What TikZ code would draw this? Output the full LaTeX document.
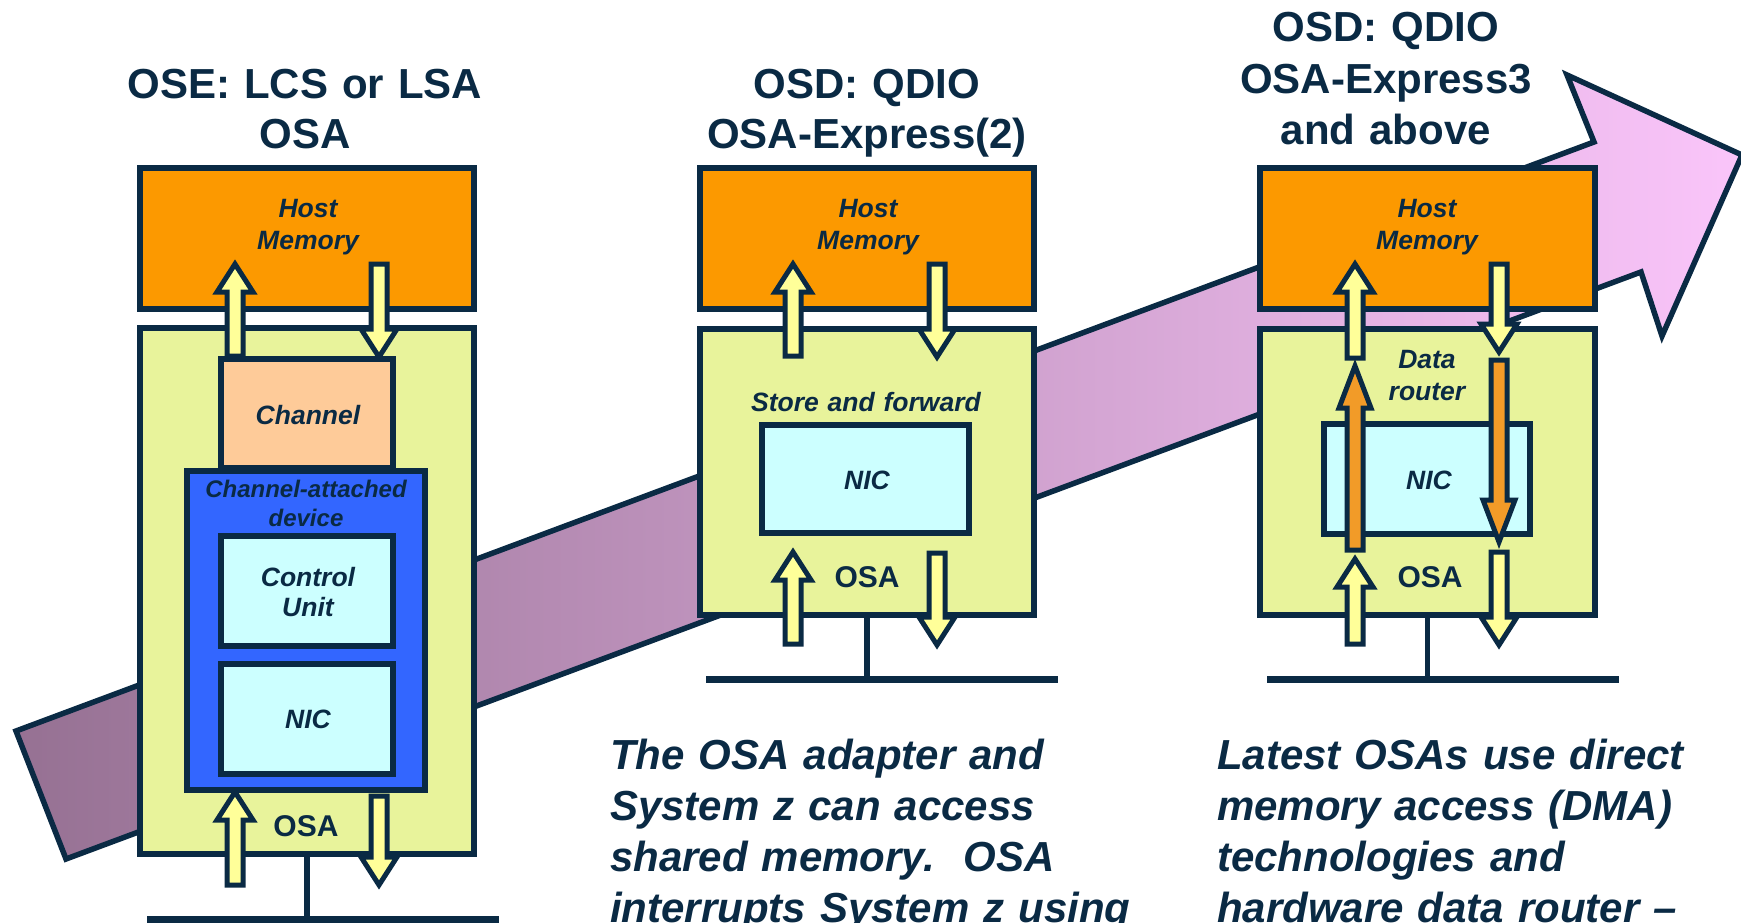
\documentclass[tikz,border=0pt]{standalone}
\usepackage{fontspec}
\setmainfont{Liberation Sans}
\usepackage{xcolor}

\definecolor{navy}{RGB}{10,42,68}
\definecolor{memorange}{RGB}{252,153,0}
\definecolor{osagreen}{RGB}{232,243,155}
\definecolor{chanpeach}{RGB}{254,203,153}
\definecolor{devblue}{RGB}{51,102,255}
\definecolor{niccyan}{RGB}{204,255,255}
\definecolor{flowyellow}{RGB}{255,255,153}
\definecolor{routeorange}{RGB}{242,155,40}
\definecolor{bandleft}{RGB}{150,113,147}
\definecolor{bandright}{RGB}{250,197,250}

\newcommand{\flowarrow}[6]{%
	\draw[flow, fill=#1] (#2-8,#3) -- (#2-8,#4) -- (#2-#6,#4) -- (#2,#5) -- (#2+#6,#4) -- (#2+8,#4) -- (#2+8,#3) -- cycle;}

\begin{document}
\begin{tikzpicture}[x = 1pt, y = -1pt,
	box/.style = {draw=navy, line width=5.5pt, inner sep=0pt},
	flow/.style = {draw=navy, line width=5pt, line join=miter},
	band/.style = {draw=navy, line width=5.5pt, line join=miter, left color=bandleft, right color=bandright},
	title/.style = {text=navy, font=\fontsize{42}{50}\selectfont\bfseries, align=center, text width=600pt, inner sep=0pt, anchor=base},
	lab/.style = {text=navy, font=\fontsize{26.5}{32}\selectfont\bfseries\itshape, align=center, text width=300pt, inner sep=0pt, anchor=base},
	osalab/.style = {text=navy, font=\fontsize{30}{36}\selectfont\bfseries, inner sep=0pt, anchor=base},
	note/.style = {text=navy, font=\fontsize{42}{51}\selectfont\bfseries\itshape\frenchspacing, align=left, text width=560pt, inner sep=0pt, anchor=base west},
	lan/.style = {draw=navy, line width=7pt},
	stem/.style = {draw=navy, line width=5.5pt}]
	\useasboundingbox (0, 0) rectangle (1741, 923);
	\clip (0, 0) rectangle (1741, 923);

	\draw[band] (16, 731) -- (1594, 142) -- (1567, 75) -- (1742, 155) -- (1662, 336) -- (1641, 272) -- (66, 859) -- cycle;

	% OSE
	\node[title] (title1) at (305, 99) {OSE: LCS or LSA\\OSA};
	\node[box, fill=memorange, minimum width=334pt, minimum height=141pt] (mem1) at (307, 238.5) {};
	\node[box, fill=osagreen, minimum width=334pt, minimum height=526pt] (osa1) at (307, 591) {};
	\node[box, fill=chanpeach, minimum width=172pt, minimum height=109pt] (chan1) at (307, 413.5) {};
	\node[box, fill=devblue, minimum width=238pt, minimum height=319pt] (dev1) at (306, 630.5) {};
	\node[box, fill=niccyan, minimum width=172pt, minimum height=110pt] (cu1) at (307, 591) {};
	\node[box, fill=niccyan, minimum width=172pt, minimum height=110pt] (nic1) at (307, 719) {};
	\node[lab] (memtxt1) at (308, 218) {Host\\Memory};
	\node[lab] (chantxt1) at (308, 424.5) {Channel};
	\node[lab, font=\fontsize{24}{29}\selectfont\bfseries\itshape] (devtxt1) at (306, 497) {Channel-attached\\device};
	\node[lab, font=\fontsize{26.5}{30}\selectfont\bfseries\itshape] (cutxt1) at (308, 586.5) {Control\\Unit};
	\node[lab] (nictxt1) at (308, 728.5) {NIC};
	\node[osalab] (osatxt1) at (306, 836) {OSA};
	\coordinate (lan1w) at (147, 919);
	\coordinate (lan1e) at (499, 919);
	\draw[stem] (osa1.south) -- (osa1.south |- lan1w);
	\draw[lan] (lan1w) -- (lan1e);
	\flowarrow{flowyellow}{235}{356}{292}{264}{18}
	\flowarrow{flowyellow}{379}{264}{329}{357}{18}
	\flowarrow{flowyellow}{235}{885}{820}{792}{18}
	\flowarrow{flowyellow}{379}{796}{857}{885}{18}

	% OSD, OSA-Express(2)
	\node[title] (title2) at (867, 99) {OSD: QDIO\\OSA-Express(2)};
	\node[box, fill=memorange, minimum width=334pt, minimum height=141pt] (mem2) at (867, 238.5) {};
	\node[box, fill=osagreen, minimum width=334pt, minimum height=286pt] (osa2) at (867, 472) {};
	\node[box, fill=niccyan, minimum width=207pt, minimum height=108pt] (nic2) at (865.5, 479) {};
	\node[lab] (memtxt2) at (868, 218) {Host\\Memory};
	\node[lab] (sftxt2) at (866, 411.5) {Store and forward};
	\node[lab] (nictxt2) at (867, 489.5) {NIC};
	\node[osalab] (osatxt2) at (867, 587) {OSA};
	\coordinate (lan2w) at (706, 679);
	\coordinate (lan2e) at (1058, 679);
	\draw[stem] (osa2.south) -- (osa2.south |- lan2w);
	\draw[lan] (lan2w) -- (lan2e);
	\flowarrow{flowyellow}{793}{356}{292}{264}{18}
	\flowarrow{flowyellow}{937}{264}{329}{357}{18}
	\flowarrow{flowyellow}{793}{644}{580}{552}{18}
	\flowarrow{flowyellow}{937}{553}{617}{645}{18}

	% OSD, OSA-Express3
	\node[title, font=\fontsize{42}{51.5}\selectfont\bfseries] (title3) at (1386, 42) {OSD: QDIO\\OSA-Express3\\and above};
	\node[box, fill=memorange, minimum width=335pt, minimum height=141pt] (mem3) at (1427.5, 238.5) {};
	\node[box, fill=osagreen, minimum width=335pt, minimum height=286pt] (osa3) at (1427.5, 472) {};
	\node[box, fill=niccyan, minimum width=206pt, minimum height=110pt] (nic3) at (1427, 479) {};
	\node[lab] (memtxt3) at (1427, 218) {Host\\Memory};
	\node[lab] (drtxt3) at (1427, 368.5) {Data\\router};
	\node[lab] (nictxt3) at (1429, 489.5) {NIC};
	\node[osalab] (osatxt3) at (1430, 587) {OSA};
	\coordinate (lan3w) at (1267, 679);
	\coordinate (lan3e) at (1619, 679);
	\draw[stem] (osa3.south) -- (osa3.south |- lan3w);
	\draw[lan] (lan3w) -- (lan3e);
	\flowarrow{routeorange}{1355}{550}{408}{366}{16}
	\flowarrow{routeorange}{1499}{360}{500}{542}{16}
	\flowarrow{flowyellow}{1355}{358}{292}{264}{18}
	\flowarrow{flowyellow}{1499}{264}{324}{352}{18}
	\flowarrow{flowyellow}{1355}{644}{587}{559}{18}
	\flowarrow{flowyellow}{1499}{552}{617}{645}{18}

	\node[note] (note2) at (610, 769.5) {The OSA adapter and\\System z can access\\shared memory.\ \ OSA\\interrupts System z using};
	\node[note] (note3) at (1217, 769.5) {Latest OSAs use direct\\memory access (DMA)\\technologies and\\hardware data router –};
\end{tikzpicture}
\end{document}
